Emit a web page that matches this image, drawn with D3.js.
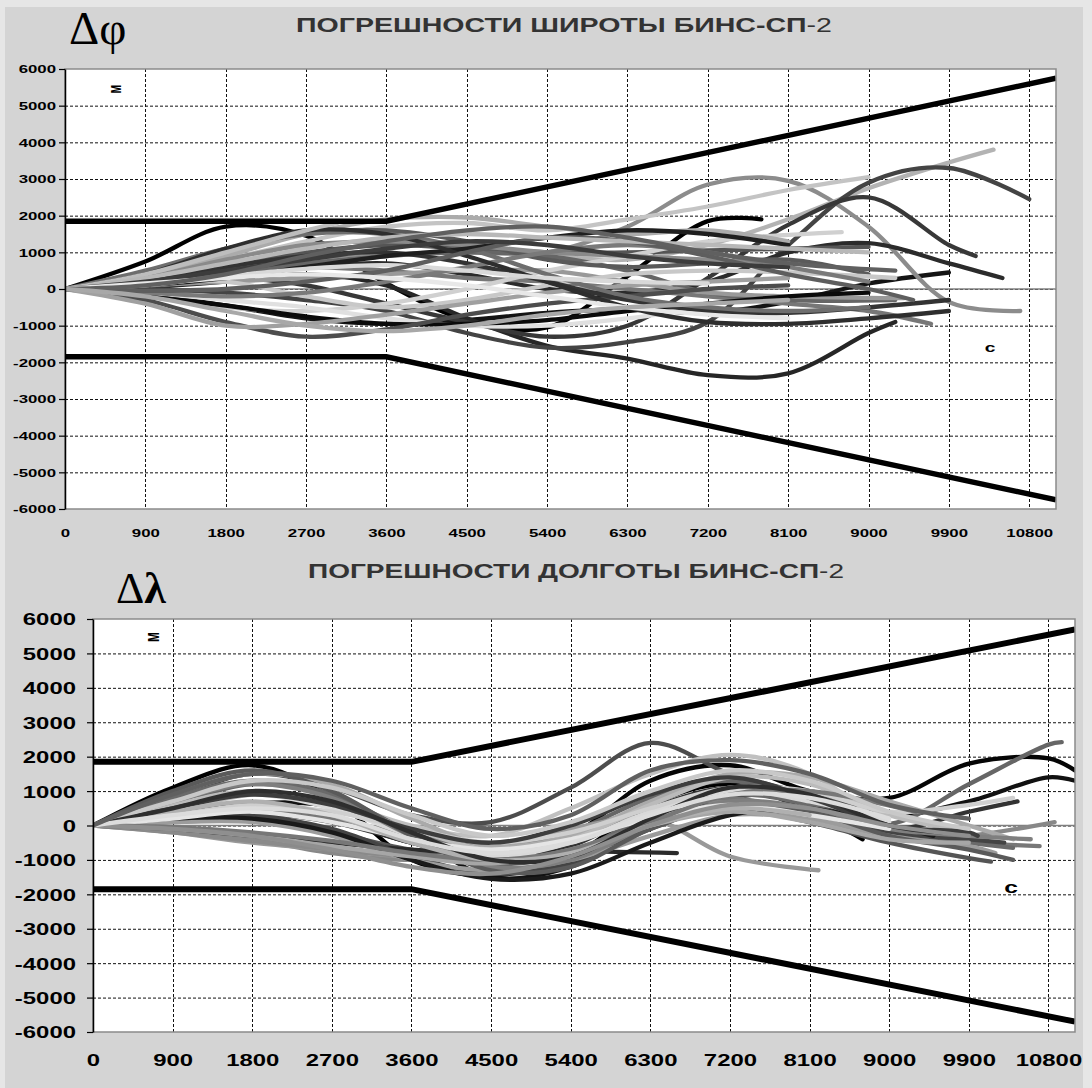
<!DOCTYPE html>
<html><head><meta charset="utf-8">
<script src="https://cdn.jsdelivr.net/npm/d3@7"></script>
<style>body{margin:0;background:#e6e6e6}svg{display:block}</style>
</head><body><svg id="c" width="1092" height="1088"></svg>
<script>
// ---------- shared axis data ----------
const timeStep = 900;
const xMax = 11100;
const xTicks = [0, 900, 1800, 2700, 3600, 4500, 5400, 6300, 7200, 8100, 9000, 9900, 10800];
const yTicks = [6000, 5000, 4000, 3000, 2000, 1000, 0, -1000, -2000, -3000, -4000, -5000, -6000];

// tolerance corridor (time, metres)
const boundT = [0, 3600, 11100];
const phiBoundUpper = [1850, 1850, 5750];
const phiBoundLower = [-1850, -1850, -5750];
const lamBoundUpper = [1850, 1850, 5700];
const lamBoundLower = [-1850, -1850, -5700];

// ---------- latitude errors (values every 900 s; last value at its end time) ----------
const phiValues = [
  [0,750,1700,1450,150,-850,-1050,350,1850,1900],
  [0,-150,-450,-800,-950,-850,-650,-550,-650,-350,150,450],
  [0,50,200,400,100,-800,-1550,-1900,-2350,-2300,-1200,-900],
  [0,250,550,800,950,1000,1000,1700,2850,2950,1700,-350,-600],
  [0,150,400,700,900,1000,900,800,1200,1900,2750,3450,3800],
  [0,300,800,1300,1700,1800,1600,1900,2250,2700,3050],
  [0,0,-100,-300,-600,-1200,-1600,-1450,-900,1200,2900,3300,2450],
  [0,150,300,100,-400,-900,-1300,-1000,300,1750,2500,1200,900],
  [0,150,400,600,700,400,0,-100,200,1000,1250,700,300],
  [0,200,500,600,500,300,200,0,-200,-400,-600,-950],
  [0,300,700,1000,1200,1100,1000,1000,1050,1100,1150],
  [0,200,450,700,900,1000,900,500,-100,-300,-300],
  [0,100,200,300,400,500,500,200,-100,-200,-250],
  [0,-200,-500,-600,-400,0,500,900,1300,1550],
  [0,400,1000,1500,1600,1300,800,600,700,800,400],
  [0,350,900,1500,1900,1950,1700,1500,1600,1300],
  [0,-100,-300,-500,-800,-1000,-1000,-800,-500],
  [0,200,200,-200,-500,-300,100,400,500,450,300],
  [0,-200,-450,-750,-950,-950,-850,-600,-400,-200,-100],
  [0,-300,-900,-1300,-1100,-700,-400,-200,0,100],
  [0,-400,-1000,-950,-700,-400,-100,100,200,300],
  [0,200,600,900,1000,700,200,-300,-600,-650,-500,-300],
  [0,500,1100,1500,1500,1100,400,-200,-500,-600,-500],
  [0,300,800,1200,1300,1200,1000,900,800,700],
  [0,100,300,600,900,1100,1400,1600,1500,1200],
  [0,-100,-200,-100,200,600,1000,1200,1000,600,200],
  [0,400,1100,1600,1500,900,200,-500,-900,-950,-800,-600],
  [0,100,350,550,650,500,300,200,150],
  [0,-50,0,200,500,1000,1400,1300,900,400,0,-300],
  [0,400,1000,1600,1800],
  [0,300,700,1100,1400,1500,1400,1300,1200,1100,1000],
  [0,200,500,800,1100,1300,1200,900,700,600],
  [0,150,300,400,300,100,-200,-500,-700,-800],
  [0,100,400,900,1300,1600,1700,1400,1000,700,500],
  [0,-200,-600,-1000,-1150,-1000,-700,-500,-400,-300]
];
const phiEndTimes = [7800,9900,9300,10700,10400,9000,10800,10200,10500,9700,9000,9300,9400,8700,9000,8100,7200,9300,9000,8100,
  8100,9900,9000,8100,8100,9000,9900,7200,9500,3050,9000,8100,8100,9300,8100];
const phiShades = ['#000000','#141414','#262626','#8c8c8c','#b3b3b3','#c4c4c4','#444444','#383838','#2b2b2b','#777777',
  '#555555','#666666','#999999','#d0d0d0','#5a5a5a','#ababab','#e0e0e0','#c8c8c8','#0a0a0a','#4d4d4d',
  '#a0a0a0','#333333','#6e6e6e','#8a8a8a','#1f1f1f','#7a7a7a','#2e2e2e','#d9d9d9','#5e5e5e','#bdbdbd',
  '#b8b8b8','#3c3c3c','#e8e8e8','#606060','#a8a8a8'];

// ---------- longitude errors ----------
const lamValues = [
  [0,1100,1750,800,-1000,-1450,-900,600,1200,400,-400],
  [0,400,650,550,-300,-1500,-1200,0,800,900,300,700,1400,1300],
  [0,300,500,200,-500,-900,-300,1300,1750,1000,800,1800,1950,1600],
  [0,800,1500,1100,300,100,1100,2400,1500,900,300],
  [0,400,900,700,0,-300,500,1500,2050,1500,100],
  [0,600,1200,900,-200,-800,-200,800,1300,700,50,1200,2350,2420],
  [0,200,350,100,-500,-1100,-600,500,1100,700,-100,400,700],
  [0,-100,-400,-800,-1000,-800,-200,500,700,200,-400,-300,100],
  [0,100,150,-200,-700,-900,-400,300,500,100,-500,-950,-1050],
  [0,200,400,200,-300,-600,-200,500,800,300,-300,-500,-600],
  [0,-200,-500,-700,-900,-700,-100,200,-900,-1300],
  [0,-200,-450,-700,-900,-950,-900],
  [0,-100,-300,-500,-700,-800,-750,-800],
  [0,900,1500,1200,200,-600,-300,700,1500,1400,700,0,-400],
  [0,800,1300,900,-200,-1100,-800,300,900,600,-200,-500,-650],
  [0,500,900,500,-300,-900,-500,400,1000,700,100],
  [0,600,1000,600,-100,-700,-400,600,1400,1200,300,-200],
  [0,300,300,-100,-900,-1400,-1100,-100,600,400,-200,-400,-500],
  [0,100,100,-300,-1000,-1300,-1000,-300,300,200,-300,-600,-800],
  [0,200,200,-200,-1000,-1550,-1400,-500,300,500,0,-300],
  [0,300,600,400,-100,-500,-200,500,1100,1000,400,600,800],
  [0,700,1200,800,-300,-1200,-1000,0,700,500,-100,-300,-400],
  [0,1000,1600,1000,-300,-1300,-1200,-100,600,400,-300,-700,-1000],
  [0,-100,-300,-600,-900,-1100,-700,0,400,100,-400,-500],
  [0,500,900,600,-100,-500,0,900,1400,800,0,-200,-300],
  [0,200,400,100,-400,-700,-400,200,600,300,-100],
  [0,-50,-200,-450,-800,-1000,-700,100,900,1000,400],
  [0,400,700,300,-500,-1000,-800,0,500,300],
  [0,700,1300,1100,300,-300,100,1000,1600,1300,400,-100],
  [0,500,1000,700,-200,-1000,-900,200,1100,900,0,-200],
  [0,-100,-300,-700,-1200,-1400,-900,0,600,500,0,-300],
  [0,300,500,300,-400,-800,-500,300,900,800,200],
  [0,900,1500,1300,500,-100,300,1600,1900,1500,600,200]
];
const lamEndTimes = [8700,11100,11100,9000,8900,10950,10450,10870,10150,10700,8200,5700,6600,10400,10400,9000,9900,10300,10200,9500,
  10400,10600,10400,9900,10000,9000,9300,8100,9900,9600,9900,9000,9900];
const lamShades = ['#000000','#111111','#050505','#4d4d4d','#c0c0c0','#666666','#333333','#888888','#555555','#777777',
  '#999999','#8a8a8a','#2a2a2a','#aaaaaa','#6a6a6a','#d9d9d9','#bbbbbb','#444444','#9c9c9c','#1a1a1a',
  '#cfcfcf','#7f7f7f','#5a5a5a','#a6a6a6','#3d3d3d','#e5e5e5','#777777','#b0b0b0','#c8c8c8','#2e2e2e',
  '#8f8f8f','#dcdcdc','#606060'];

// ---------- drawing ----------
const svg = d3.select('#c');
svg.append('rect').attr('width',1092).attr('height',1088).attr('fill','#e6e6e6');
svg.append('rect').attr('x',5).attr('y',7).attr('width',1078).attr('height',1081).attr('fill','#d4d4d4');

function toPoints(vals, endT) {
  return vals.map((v,i) => [i === vals.length-1 ? endT : i*timeStep, v]);
}

function drawChart(o) {
  const g = svg.append('g');
  const x = d3.scaleLinear().domain([0, xMax]).range([o.x0, o.x1]);
  const y = d3.scaleLinear().domain([-6000, 6000]).range([o.y1, o.y0]);

  g.append('rect').attr('x',o.x0).attr('y',o.y0).attr('width',o.x1-o.x0).attr('height',o.y1-o.y0).attr('fill','#fff');

  // dashed grid
  g.append('g').selectAll('line').data(yTicks.filter(v => v !== 6000 && v !== -6000)).join('line')
    .attr('x1',o.x0).attr('x2',o.x1).attr('y1',d=>y(d)+0.5).attr('y2',d=>y(d)+0.5)
    .attr('stroke','#111').attr('stroke-width',1).attr('stroke-dasharray','3,2');
  g.append('g').selectAll('line').data(xTicks.slice(1)).join('line')
    .attr('x1',d=>Math.round(x(d))+0.5).attr('x2',d=>Math.round(x(d))+0.5).attr('y1',o.y0).attr('y2',o.y1)
    .attr('stroke','#111').attr('stroke-width',1).attr('stroke-dasharray','3,2');
  // zero (category) axis
  g.append('line').attr('x1',o.x0).attr('x2',o.x1).attr('y1',y(0)).attr('y2',y(0))
    .attr('stroke','#808080').attr('stroke-width',1.5);

  const clipId = 'clip' + o.id;
  svg.append('clipPath').attr('id',clipId).append('rect')
    .attr('x',o.x0).attr('y',o.y0).attr('width',o.x1-o.x0).attr('height',o.y1-o.y0);
  const plot = g.append('g').attr('clip-path',`url(#${clipId})`);

  const line = d3.line().x(d=>x(d[0])).y(d=>y(d[1])).curve(d3.curveCatmullRom.alpha(0.5));
  o.values.forEach((vals,k) => {
    plot.append('path').attr('d', line(toPoints(vals, o.ends[k])))
      .attr('fill','none').attr('stroke',o.shades[k]).attr('stroke-width',o.lw)
      .attr('stroke-linecap','round').attr('stroke-linejoin','round');
  });

  const bline = d3.line().x((d,i)=>x(boundT[i])).y(d=>y(d));
  [o.upper, o.lower].forEach(b => {
    plot.append('path').attr('d', bline(b)).attr('fill','none')
      .attr('stroke','#000').attr('stroke-width',o.bw);
  });

  // border
  g.append('rect').attr('x',o.x0).attr('y',o.y0).attr('width',o.x1-o.x0).attr('height',o.y1-o.y0)
    .attr('fill','none').attr('stroke','#8a8a8a').attr('stroke-width',1.5);

  // y axis
  const ya = g.append('g').attr('transform',`translate(${o.x0},0)`)
    .call(d3.axisLeft(y).tickValues(yTicks).tickSize(6).tickSizeOuter(0).tickFormat(d => String(d)));
  ya.select('.domain').attr('stroke','#000').attr('stroke-width',1.5);
  ya.selectAll('.tick line').attr('stroke','#000').attr('stroke-width',1.2);
  ya.selectAll('text').attr('x', -o.ygap/o.sx).attr('dy', o.ydy)
    .attr('transform',`scale(${o.sx},1)`).attr('font-family','Liberation Sans, Arial, sans-serif')
    .attr('font-weight','bold').attr('font-size',o.fs).attr('fill','#000');

  // x axis labels
  const xa = g.append('g').attr('transform',`translate(0,${o.y1})`)
    .call(d3.axisBottom(x).tickValues(xTicks).tickSize(0).tickFormat(d => String(d)));
  xa.select('.domain').remove();
  xa.selectAll('text').attr('y', o.xlab).attr('dy',0)
    .attr('transform',`scale(${o.sx},1)`)
    .attr('font-family','Liberation Sans, Arial, sans-serif')
    .attr('font-weight','bold').attr('font-size',o.fs).attr('fill','#000');

  // title
  const t = svg.append('text').attr('x',o.tx).attr('y',o.ty).attr('textLength',o.tw)
    .attr('lengthAdjust','spacingAndGlyphs')
    .attr('font-family','Liberation Sans, Arial, sans-serif').attr('font-size',o.tfs)
    .attr('font-weight','bold').attr('fill','#333');
  t.append('tspan').text(o.title);
  t.append('tspan').attr('font-weight','normal').text('-2');

  // greek symbol
  const s = svg.append('text').attr('x',o.gx).attr('y',o.gy)
    .attr('font-family','Liberation Serif, Times New Roman, serif').attr('font-size',o.gfs).attr('fill','#000');
  s.append('tspan').text('Δ');
  s.append('tspan').attr('font-weight',o.gbold).text(o.sym);

  // unit labels
  svg.append('text').attr('transform',`translate(${o.mx},${o.my}) rotate(-90) scale(1,${o.sx})`)
    .attr('text-anchor','middle').attr('font-family','Liberation Sans, Arial, sans-serif')
    .attr('font-weight','bold').attr('font-size',o.mfs).attr('fill','#000').text('м');
  svg.append('text').attr('transform',`translate(${o.cx},${o.cy}) scale(${o.sx},1)`)
    .attr('text-anchor','middle').attr('font-family','Liberation Sans, Arial, sans-serif')
    .attr('font-weight','bold').attr('font-size',o.cfs).attr('fill','#000').text('с');
}

drawChart({id:'phi', x0:65, x1:1056, y0:69, y1:509, values:phiValues, ends:phiEndTimes, shades:phiShades,
  upper:phiBoundUpper, lower:phiBoundLower, bw:5.5, lw:4.3, fs:10.5, sx:1.6, ygap:9, ydy:'0.35em', xlab:28,
  title:'ПОГРЕШНОСТИ ШИРОТЫ БИНС-СП', tx:296, ty:32, tw:536, tfs:19.5,
  gx:69, gy:44, gfs:47, gbold:'normal', sym:'φ', mx:121, my:89, mfs:12, cx:990, cy:352, cfs:12});

drawChart({id:'lam', x0:93, x1:1075, y0:619, y1:1032, values:lamValues, ends:lamEndTimes, shades:lamShades,
  upper:lamBoundUpper, lower:lamBoundLower, bw:6, lw:4.3, fs:16.5, sx:1.45, ygap:17, ydy:'0.36em', xlab:34,
  title:'ПОГРЕШНОСТИ ДОЛГОТЫ БИНС-СП', tx:308, ty:578, tw:536, tfs:19.5,
  gx:116, gy:603, gfs:44, gbold:'bold', sym:'λ', mx:159, my:637, mfs:14, cx:1011, cy:893, cfs:17});
</script></body></html>
